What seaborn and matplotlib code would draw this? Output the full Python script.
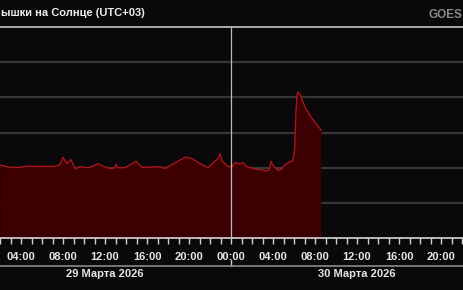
import numpy as np
import pandas as pd
import matplotlib
matplotlib.use("Agg")
import matplotlib.pyplot as plt
import seaborn as sns
from matplotlib.lines import Line2D

# hours since 29 March 2026 00:00 (UTC+03)
hours = [2.0, 2.95, 3.9, 4.38, 5.8, 7.24, 7.71, 8.0, 8.38, 8.76, 9.14, 9.62, 10.38, 10.76,
         11.33, 11.81, 12.48, 12.95, 13.05, 13.24, 13.9, 14.95, 15.52, 17.24, 17.71, 18.19,
         19.14, 19.71, 20.29, 21.05, 21.81, 22.19, 22.76, 22.95, 23.14, 23.71, 24.1, 24.38,
         24.86, 25.14, 25.52, 26.1, 26.76, 27.33, 27.62, 27.81, 28.1, 28.48, 28.76, 29.14,
         29.62, 29.9, 30.05, 30.19, 30.29, 30.38, 30.57, 30.76, 31.05, 31.52, 32.0, 32.48, 32.57]
flux = [1.19e-7, 1.02e-7, 1.02e-7, 1.10e-7, 1.08e-7, 1.10e-7, 1.22e-7, 1.97e-7, 1.30e-7,
        1.69e-7, 9.4e-8, 1.07e-7, 1.0e-7, 1.07e-7, 1.30e-7, 1.10e-7, 9.4e-8, 1.0e-7, 1.26e-7,
        1.0e-7, 1.0e-7, 1.51e-7, 1.02e-7, 1.07e-7, 9.4e-8, 1.14e-7, 1.64e-7, 2.0e-7, 1.81e-7,
        1.30e-7, 1.0e-7, 1.30e-7, 1.81e-7, 2.51e-7, 1.58e-7, 1.07e-7, 1.07e-7, 1.39e-7,
        1.30e-7, 1.39e-7, 1.07e-7, 9.4e-8, 8.8e-8, 8.2e-8, 8.5e-8, 1.51e-7, 1.07e-7, 8.4e-8,
        8.8e-8, 1.22e-7, 1.48e-7, 1.58e-7, 3.06e-7, 4.25e-6, 1.14e-5, 1.42e-5, 1.22e-5,
        8.8e-6, 5.2e-6, 3.06e-6, 1.93e-6, 1.30e-6, 1.14e-6]

tick_hours = [4, 8, 12, 16, 20, 24, 28, 32, 36, 40, 44]
tick_labels = ["04:00", "08:00", "12:00", "16:00", "20:00", "00:00",
               "04:00", "08:00", "12:00", "16:00", "20:00"]
day_hours = [12, 36]
day_labels = ["29 Марта 2026", "30 Марта 2026"]
title = "ышки на Солнце (UTC+03)"
source = "GOES"

df = pd.DataFrame({"h": hours, "flux": flux})

BG = "#0a080b"
sns.set_style("dark")
plt.rcParams["font.family"] = ["Liberation Sans", "DejaVu Sans"]

fig = plt.figure(figsize=(4.64, 2.90), dpi=100, facecolor=BG)
ax = fig.add_axes([0.0, 52 / 290, 1.0, 211 / 290])
ax.set_facecolor(BG)

ax.fill_between(df["h"], 1e-9, df["flux"], color="#3c0002", lw=0, zorder=2)
sns.lineplot(data=df, x="h", y="flux", ax=ax, color="#a8141a", lw=1.0, zorder=3)

ax.set_yscale("log")
ax.set_ylim(1e-9, 1e-3)
ax.set_xlim(2.0, 46.19)
ax.set_xlabel("")
ax.set_ylabel("")
ax.set_yticks([1e-8, 1e-7, 1e-6, 1e-5, 1e-4])
ax.set_yticks([], minor=True)
ax.tick_params(axis="y", left=False, labelleft=False, which="both")
ax.grid(False)
ax.yaxis.grid(True, color="#363636", lw=1.6, zorder=1)
ax.set_axisbelow(True)

ax.set_xticks(tick_hours)
ax.set_xticklabels(tick_labels)
ax.set_xticks(np.arange(2, 47, 1), minor=True)
ax.tick_params(axis="x", which="both", direction="out", length=4, width=1,
               color="#d0d0d0", bottom=True, pad=6)
ax.tick_params(axis="x", which="major", labelsize=8, labelcolor="#e6e6e6")
for lab in ax.get_xticklabels():
    lab.set_fontweight("bold")

for s in ["left", "right"]:
    ax.spines[s].set_visible(False)
ax.spines["top"].set_color("#c8c8c8")
ax.spines["top"].set_linewidth(1.2)
ax.spines["bottom"].set_color("#d8d8d8")
ax.spines["bottom"].set_linewidth(1.2)

ax.axvline(24, color="#bbbbbb", lw=0.9, zorder=4)

# separator line and date labels
fig.add_artist(Line2D([0, 1], [24 / 290, 24 / 290], color="#8a8a8a", lw=1.2))
trans = matplotlib.transforms.blended_transform_factory(ax.transData, fig.transFigure)
for h, lbl in zip(day_hours, day_labels):
    ax.text(h, 16 / 290, lbl, transform=trans, ha="center", va="center",
            fontsize=8, fontweight="bold", color="#e6e6e6")
ax.plot([24, 24], [24 / 290, 30 / 290], transform=trans, color="#d0d0d0", lw=1, clip_on=False)

fig.text(1 / 464, 1 - 13 / 290, title, ha="left", va="center", fontsize=8,
         fontweight="bold", color="#eeeeee")
fig.text(462 / 464, 1 - 15 / 290, source, ha="right", va="center", fontsize=8.5,
         fontweight="bold", color="#8a8a8a")

fig.savefig("out.png", dpi=100, facecolor=BG)
